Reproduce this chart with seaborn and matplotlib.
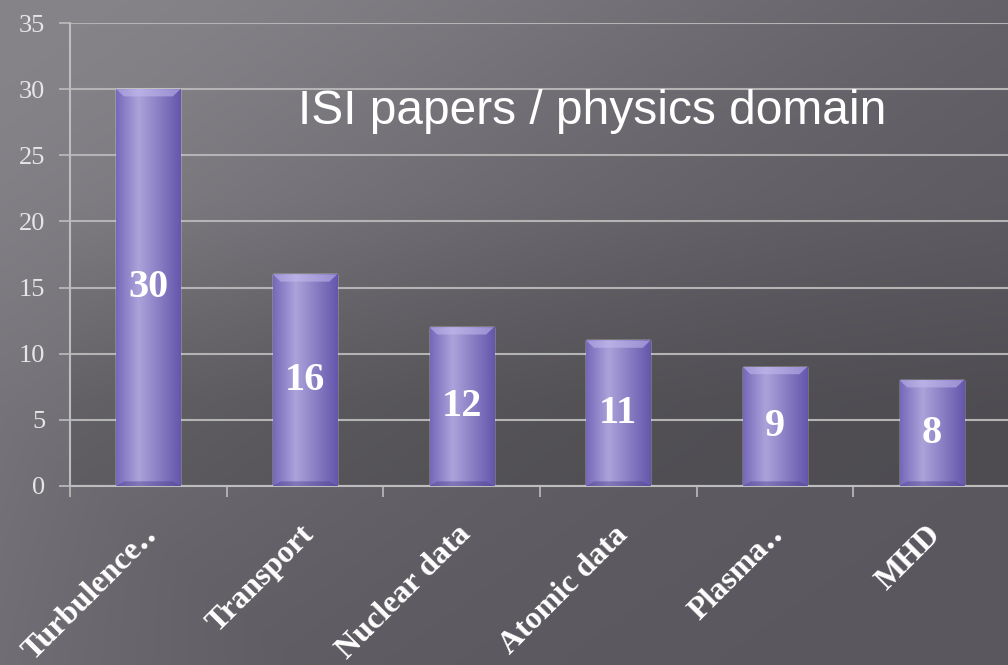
import numpy as np
import matplotlib
matplotlib.use("Agg")
import matplotlib.pyplot as plt
import matplotlib.transforms as mtransforms
import seaborn as sns

categories = ["Turbulence\u2025", "Transport", "Nuclear data", "Atomic data", "Plasma\u2025", "MHD"]
values = [30, 16, 12, 11, 9, 8]
yticks = [0, 5, 10, 15, 20, 25, 30, 35]
title = "ISI papers / physics domain"

sns.set_theme(style="white")
plt.rcParams['font.family'] = ['Liberation Serif', 'DejaVu Serif']

fig = plt.figure(figsize=(10.08, 6.65), dpi=100)

# background gradient
bg = fig.add_axes([0, 0, 1, 1])
bg.set_axis_off()
H, W = 665, 1008
yy, xx = np.mgrid[0:H, 0:W]
t = (xx / W * 0.6 + yy / H * 0.55)
light = np.exp(-((t - 0.0) / 0.5) ** 2)
base = np.array([90, 88, 94]) / 255.0
top = np.array([134, 132, 137]) / 255.0
img = base[None, None, :] + (top - base)[None, None, :] * light[..., None]
# slightly lighter lower-left corner
corner = np.clip(1 - (xx / 300 + (H - yy) / 250), 0, 1) * 0.12
img = img + corner[..., None] * 0.3
# darker plot-area shading near the bottom (shadow behind bars)
shade = np.zeros((H, W))
region = (xx > 70) & (yy < 486) & (yy > 200)
shade[region] = 0.14 * np.clip((yy[region] - 200) / 200, 0, 1)
img = np.clip(img * (1 - shade[..., None]), 0, 1)
bg.imshow(img, extent=[0, 1, 0, 1], aspect='auto', zorder=0)
bg.set_xlim(0, 1); bg.set_ylim(0, 1)

ax = fig.add_axes([70 / 1008, 179 / 665, 940 / 1008, 463 / 665])
ax.patch.set_alpha(0)

sns.barplot(x=categories, y=values, ax=ax, color="#8d82cc", width=0.41,
            saturation=1, zorder=3)

ax.set_xlim(-0.5, 5.5)
ax.set_ylim(0, 35)
ax.set_yticks(yticks)
ax.set_yticklabels([str(v) for v in yticks], color="#e6e6e6", fontsize=19)
ax.tick_params(axis='y', length=8, width=1.2, color="#bdbdbd", pad=10, left=True)
ax.yaxis.grid(True, color="#b4b4b4", linewidth=1.5, zorder=1)
ax.set_axisbelow(True)
for s in ["top", "right"]:
    ax.spines[s].set_visible(False)
for s in ["left", "bottom"]:
    ax.spines[s].set_color("#bdbdbd")
    ax.spines[s].set_linewidth(1.5)

# x ticks: marks at boundaries, labels at centers
ax.set_xticks(np.arange(len(categories)))
ax.set_xticklabels(categories)
ax.set_xticks(np.arange(-0.5, len(categories) + 0.5, 1), minor=True)
ax.tick_params(axis='x', which='major', length=0, pad=32)
ax.tick_params(axis='x', which='minor', length=8, width=1.2, color="#bdbdbd", bottom=True)
offset = mtransforms.ScaledTranslation(5 / 100, 0, fig.dpi_scale_trans)
for lab in ax.get_xticklabels():
    lab.set_rotation(45)
    lab.set_ha('right')
    lab.set_va('center')
    lab.set_rotation_mode('anchor')
    lab.set_fontsize(23)
    lab.set_fontweight('bold')
    lab.set_color('white')
    lab.set_transform(lab.get_transform() + offset)
ax.set_xlabel("")
ax.set_ylabel("")

# bar gradient overlay
grad_x = np.linspace(0, 1, 200)
c_left = np.array([118, 104, 186]) / 255
c_light = np.array([172, 163, 218]) / 255
c_right = np.array([100, 86, 172]) / 255
cols = np.zeros((1, 200, 3))
for i, g in enumerate(grad_x):
    if g < 0.35:
        f = g / 0.35
        cols[0, i] = c_left + (c_light - c_left) * f
    else:
        f = (g - 0.35) / 0.65
        cols[0, i] = c_light + (c_right - c_light) * f
for p in ax.patches:
    x0, y0 = p.get_x(), p.get_y()
    w, h = p.get_width(), p.get_height()
    im = ax.imshow(cols, extent=[x0, x0 + w, y0, y0 + h], aspect='auto',
                   zorder=4, interpolation='bilinear')
    im.set_clip_path(p)
    # top bevel (trapezoid)
    d = w * 0.12
    ax.fill([x0, x0 + w, x0 + w - d, x0 + d], [y0 + h, y0 + h, y0 + h - 0.55, y0 + h - 0.55],
            color="#c4bcf0", alpha=0.55, zorder=5, linewidth=0)
    ax.fill([x0, x0 + w, x0 + w - d, x0 + d], [y0, y0, y0 + 0.35, y0 + 0.35],
            color="#4e4290", alpha=0.45, zorder=5, linewidth=0)
    ax.text(x0 + w / 2, y0 + h / 2, f"{int(h)}", ha='center', va='center',
            color='white', fontsize=29, fontweight='bold', zorder=6)

ax.set_xlim(-0.5, 5.5)
ax.set_ylim(0, 35)

fig.text(592 / 1008, 1 - 112 / 665, title, ha='center', va='center',
         color='white', fontsize=34.5, family=['Liberation Sans', 'DejaVu Sans'])

fig.savefig("out.png", dpi=100)
